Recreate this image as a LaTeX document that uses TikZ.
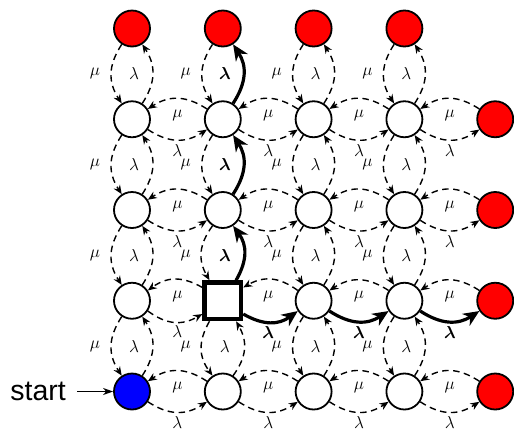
\documentclass[tikz,border=0pt]{standalone}
\usepackage{amsmath}
\usepackage{fontspec}
\newfontfamily\labelsans{Liberation Sans}
\usetikzlibrary{arrows.meta,calc}

\tikzset{
  state/.style={circle, draw, line width=1.8pt, fill=white, minimum size=36pt, inner sep=0pt},
  absorb/.style={state, fill=red},
  startstate/.style={state, fill=blue},
  block/.style={rectangle, draw, line width=4.5pt, fill=white, minimum size=36.5pt, inner sep=0pt},
  trans/.style={line width=1.4pt, dash pattern=on 6.5pt off 4.5pt, -{Stealth[length=9pt,width=7.5pt,inset=3pt]}, bend right=33, looseness=1.1},
  route/.style={line width=3.2pt, -{Stealth[length=16pt,width=14pt,inset=5pt]}, bend right=33, looseness=1.1},
  rate/.style={font=\fontsize{19}{19}\selectfont, inner sep=0pt},
}

\begin{document}
\begin{tikzpicture}[x=1pt,y=1pt]
\useasboundingbox (0,0) rectangle (514,-432);

% transient states
\foreach \i in {0,...,3}{
  \foreach \j in {0,...,3}{
    \pgfmathtruncatemacro\k{10*\i+\j}
    \ifnum\k=0 \def\sty{startstate}\else\ifnum\k=11 \def\sty{block}\else\def\sty{state}\fi\fi
    \node[\sty] (n\i\j) at ({132+90.8*\i},{-391.5+90.75*\j}) {};
  }
}
% absorbing states: top row and right column
\foreach \i in {0,...,3}{
  \node[absorb] (n\i4) at ({132+90.8*\i},{-391.5+90.75*4}) {};
  \node[absorb] (n4\i) at ({132+90.8*4},{-391.5+90.75*\i}) {};
}

% horizontal transitions
\foreach \i in {0,...,3}{
  \foreach \j in {0,...,3}{
    \pgfmathtruncatemacro\ip{\i+1}
    \pgfmathtruncatemacro\bold{(\j==1 && \i>=1) ? 1 : 0}
    \draw[trans] (n\ip\j) to (n\i\j);
    \node[rate] at ($(n\i\j)!0.5!(n\ip\j)+(0,4)$) {$\mu$};
    \ifnum\bold=1
      \draw[route] (n\i\j) to (n\ip\j);
      \node[rate] at ($(n\i\j)!0.5!(n\ip\j)+(0,-32)$) {$\boldsymbol{\lambda}$};
    \else
      \draw[trans] (n\i\j) to (n\ip\j);
      \node[rate] at ($(n\i\j)!0.5!(n\ip\j)+(0,-31)$) {$\lambda$};
    \fi
  }
}

% vertical transitions
\foreach \i in {0,...,3}{
  \foreach \j in {0,...,3}{
    \pgfmathtruncatemacro\jp{\j+1}
    \pgfmathtruncatemacro\bold{(\i==1 && \j>=1) ? 1 : 0}
    \draw[trans] (n\i\jp) to (n\i\j);
    \node[rate] at ($(n\i\j)!0.5!(n\i\jp)+(-37,0)$) {$\mu$};
    \ifnum\bold=1
      \draw[route] (n\i\j) to (n\i\jp);
      \node[rate] at ($(n\i\j)!0.5!(n\i\jp)+(2,0)$) {$\boldsymbol{\lambda}$};
    \else
      \draw[trans] (n\i\j) to (n\i\jp);
      \node[rate] at ($(n\i\j)!0.5!(n\i\jp)+(2,0)$) {$\lambda$};
    \fi
  }
}

% entry point
\node[anchor=east, inner xsep=11pt, inner ysep=0pt, font=\labelsans\fontsize{28.5}{28.5}\selectfont] (start) at ($(n00.west)+(-36,0)$) {start};
\draw[line width=1.3pt, -{Stealth[length=10pt,width=7pt,inset=3pt]}] (start.east) -- (n00.west);
\end{tikzpicture}
\end{document}
